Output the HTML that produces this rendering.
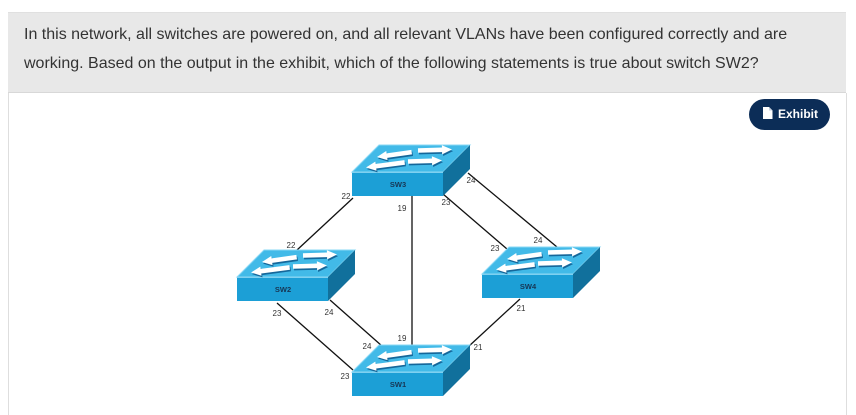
<!DOCTYPE html>
<html><head><meta charset="utf-8"><style>
html,body{margin:0;padding:0;background:#fff;width:856px;height:415px;overflow:hidden;font-family:"Liberation Sans",Arial,sans-serif;}
.panel{position:absolute;left:8px;top:12px;width:838px;height:81px;background:#e8e8e8;border-top:1px solid #e0e0e0;border-bottom:1px solid #d8d8d8;box-sizing:border-box;}
.q{position:absolute;left:24px;top:20px;width:800px;font-size:16px;line-height:29px;color:#333;}
.bl{position:absolute;left:8px;top:93px;width:1px;height:322px;background:#dedede;}
.br{position:absolute;left:846px;top:93px;width:1px;height:322px;background:#dedede;}
.btn{position:absolute;left:749px;top:99px;width:81px;height:31px;border-radius:16px;background:#0c2d57;color:#fff;font-size:12px;font-weight:bold;}
.btn span{position:absolute;left:29px;top:8px;line-height:15px;}
svg{position:absolute;left:0;top:0;}
</style></head><body>
<div class="panel"></div>
<div class="q">In this network, all switches are powered on, and all relevant VLANs have been configured correctly and are working. Based on the output in the exhibit, which of the following statements is true about switch SW2?</div>
<div class="bl"></div><div class="br"></div>
<div class="btn"><svg width="81" height="31" style="position:absolute;left:0;top:0"><path d="M14 8 H20 L23.5 11.5 V20 H14 Z" fill="#fff"/><path d="M20 8 V11.5 H23.5" fill="#c8d2e0"/></svg><span>Exhibit</span></div>

<svg width="856" height="415" viewBox="0 0 856 415">
<defs>
<polygon id="la" points="0,0 10,-4.6 10,-2.3 35,-2.3 35,2.3 10,2.3 10,4.6"/>
<polygon id="lb" points="0,0 10,-4.6 10,-2.3 39,-2.3 39,2.3 10,2.3 10,4.6"/>
<polygon id="ra" points="0,0 -10,-4.6 -10,-2.3 -34,-2.3 -34,2.3 -10,2.3 -10,4.6"/>
<g id="arrows">
  <use href="#la" transform="translate(25,-15) rotate(-8)"/>
  <use href="#ra" transform="translate(100,-22.5) rotate(-1.7)"/>
  <use href="#lb" transform="translate(14,-4.5) rotate(-7.5)"/>
  <use href="#ra" transform="translate(90,-11.5) rotate(-1.7)"/>
</g>
<g id="sw">
  <polygon points="0,0 91,0 118,-27 27,-27" fill="#42bae8" stroke="#8ad8f5" stroke-width="1"/>
  <polygon points="91,0 118,-27 118,-3 91,24" fill="#11709c"/>
  <rect x="0" y="0" width="91" height="24" fill="#1c9fd6"/>
  <line x1="0" y1="0.5" x2="91" y2="0.5" stroke="#7fd0f0" stroke-width="1"/>
  <g fill="#15679a" transform="translate(1,1.6)"><use href="#arrows"/></g>
  <g fill="#ffffff"><use href="#arrows"/></g>
</g>
</defs>

<g stroke="#111" stroke-width="1.3" fill="none">
  <line x1="353" y1="198" x2="297" y2="250"/>
  <line x1="412" y1="196" x2="412" y2="346"/>
  <line x1="443" y1="194" x2="507" y2="249"/>
  <line x1="468" y1="173" x2="557" y2="247"/>
  <line x1="277" y1="303" x2="353" y2="370"/>
  <line x1="330" y1="300" x2="382" y2="346"/>
  <line x1="520" y1="299" x2="468" y2="347"/>
</g>

<use href="#sw" x="352" y="172"/>
<use href="#sw" x="237" y="277"/>
<use href="#sw" x="482" y="274"/>
<use href="#sw" x="352" y="372"/>

<g font-family="Liberation Sans, Arial, sans-serif" font-size="7.5" font-weight="bold" fill="#173553" text-anchor="middle">
  <text x="398" y="187">SW3</text>
  <text x="283" y="292">SW2</text>
  <text x="528" y="289">SW4</text>
  <text x="398" y="387">SW1</text>
</g>

<g font-family="Liberation Sans, Arial, sans-serif" font-size="8" fill="#333" text-anchor="middle">
  <text x="346" y="199">22</text>
  <text x="402" y="211">19</text>
  <text x="446" y="205">23</text>
  <text x="471" y="183">24</text>
  <text x="291" y="248">22</text>
  <text x="495" y="251">23</text>
  <text x="538" y="243">24</text>
  <text x="277" y="316">23</text>
  <text x="329" y="315">24</text>
  <text x="367" y="349">24</text>
  <text x="402" y="341">19</text>
  <text x="521" y="311">21</text>
  <text x="478" y="350">21</text>
  <text x="345" y="379">23</text>
</g>
</svg>
</body></html>
